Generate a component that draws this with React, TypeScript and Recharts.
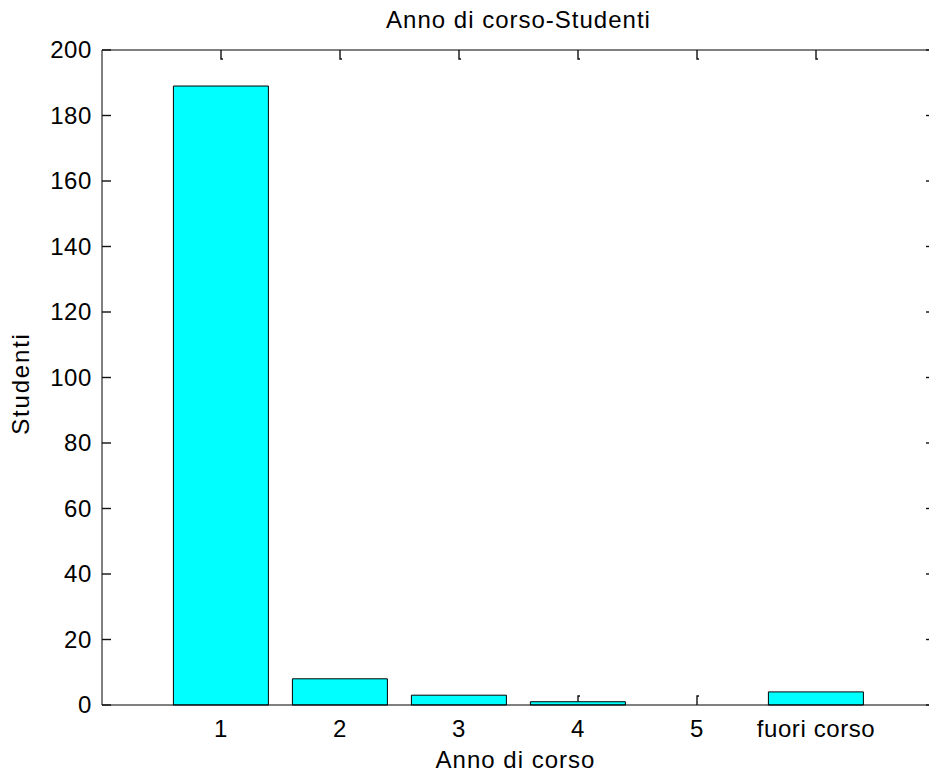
import { Bar, BarChart, ReferenceLine, XAxis, YAxis } from "recharts";

const categories = ["1", "2", "3", "4", "5", "fuori corso"];
const students = [189, 8, 3, 1, 0, 4];
const yTicks = [0, 20, 40, 60, 80, 100, 120, 140, 160, 180, 200];

const data = categories.map((anno, i) => ({ anno, studenti: students[i] }));

const CHART_W = 935;
const CHART_H = 778;
const X_AXIS_H = 73;
const MARGIN = { top: 50, right: 0, bottom: 0, left: 0 };
const PLOT_RIGHT = CHART_W - MARGIN.right;
const PLOT_H = CHART_H - MARGIN.top - MARGIN.bottom - X_AXIS_H;
const Y_MAX = yTicks[yTicks.length - 1];
const TICK_LEN = 9;

const font = {
  fontFamily: "'Liberation Sans', Arial, sans-serif",
  fontSize: 24,
  letterSpacing: 0.6,
  fill: "#000",
};

const tickStroke = { stroke: "#111", strokeWidth: 1.4, fill: "none" };

// MATLAB-style inward ticks; the bottom ones sit behind the bars
function XTick(props: any) {
  const x = Number(props.x);
  const y = Number(props.y);
  const barPx = ((students[props.index] ?? 0) / Y_MAX) * PLOT_H;
  return (
    <g>
      {barPx < TICK_LEN && (
        <path d={`M${x},${y - barPx}V${y - TICK_LEN}h2`} {...tickStroke} />
      )}
      <path d={`M${x},${MARGIN.top}V${MARGIN.top + TICK_LEN}h2`} {...tickStroke} />
      <text x={x} y={y + 32} textAnchor="middle" {...font}>
        {props.payload.value}
      </text>
    </g>
  );
}

function YTick(props: any) {
  const x = Number(props.x);
  const y = Number(props.y);
  return (
    <g>
      <path d={`M${x},${y}H${x + TICK_LEN}`} {...tickStroke} />
      <path d={`M${PLOT_RIGHT - TICK_LEN},${y}H${PLOT_RIGHT}`} {...tickStroke} />
      <text x={x - 10} y={y + 8} textAnchor="end" {...font}>
        {props.payload.value}
      </text>
    </g>
  );
}

function YLabel({ viewBox }: any) {
  const { x, y, height } = viewBox;
  return (
    <text
      transform={`translate(${x + 29},${y + height / 2 + 6}) rotate(-90)`}
      textAnchor="middle"
      {...font}
      letterSpacing={1.8}
    >
      Studenti
    </text>
  );
}

export default function App() {
  return (
    <div
      style={{
        position: "absolute",
        left: 0,
        top: 0,
        width: 929,
        height: CHART_H,
        overflow: "hidden",
        background: "#fff",
      }}
    >
      <BarChart
        width={CHART_W}
        height={CHART_H}
        data={data}
        margin={MARGIN}
        barCategoryGap="10%"
      >
        <XAxis
          dataKey="anno"
          height={X_AXIS_H}
          padding={{ left: 59.5, right: 59.5 }}
          tickSize={0}
          tickMargin={0}
          tick={XTick}
          tickLine={false}
          axisLine={{ stroke: "#000" }}
          interval={0}
          label={{
            value: "Anno di corso",
            position: "insideBottom",
            offset: 10,
            ...font,
            letterSpacing: 1,
            dx: -3,
          }}
        />
        <YAxis
          width={102}
          domain={[0, Y_MAX]}
          ticks={yTicks}
          tickSize={0}
          tickMargin={0}
          tick={YTick}
          tickLine={false}
          axisLine={{ stroke: "#000" }}
          interval={0}
          label={{ content: <YLabel /> }}
        />
        <ReferenceLine
          y={Y_MAX}
          stroke="#000"
          label={{
            value: "Anno di corso-Studenti",
            position: "top",
            offset: 22,
            ...font,
            letterSpacing: 1,
          }}
        />
        <Bar
          dataKey="studenti"
          fill="#00FFFF"
          stroke="#000"
          strokeWidth={1}
          isAnimationActive={false}
        />
      </BarChart>
    </div>
  );
}
